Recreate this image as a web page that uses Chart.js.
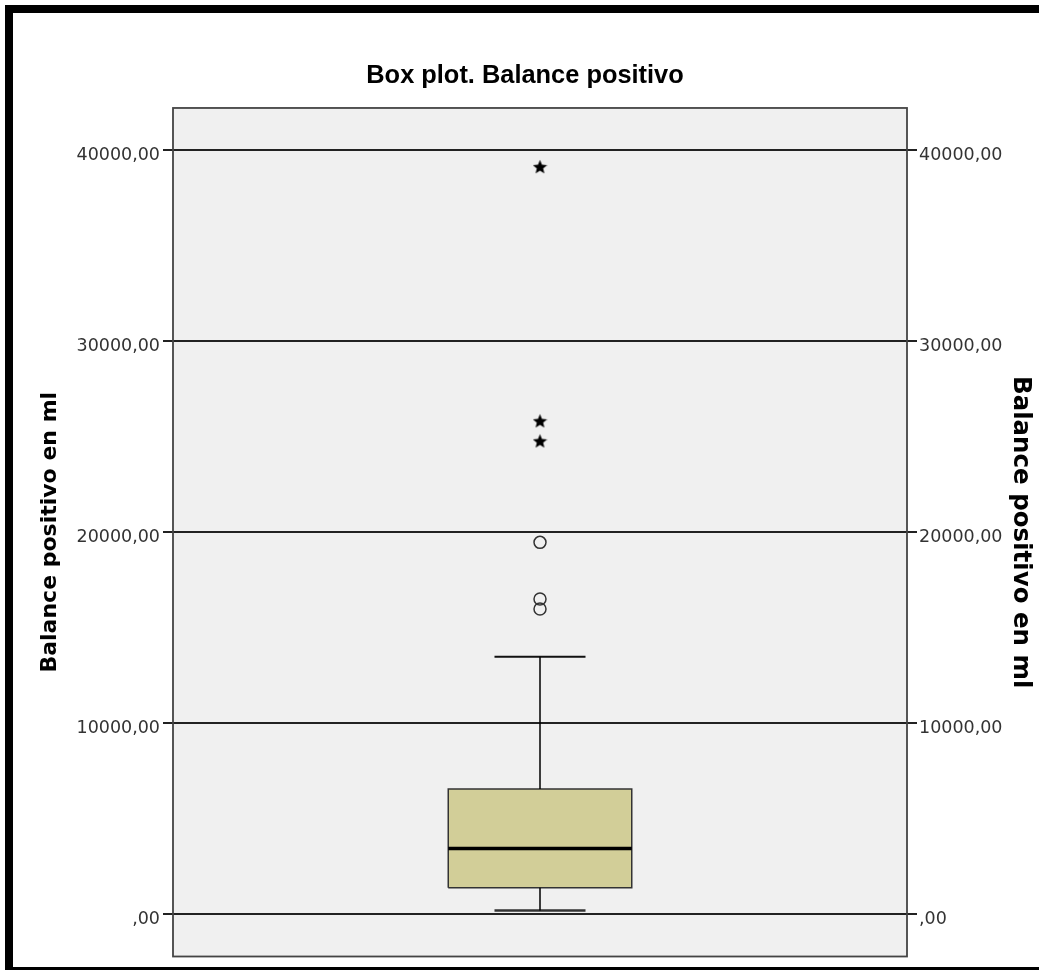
<!DOCTYPE html>
<html><head><meta charset="utf-8">
<script src="https://cdn.jsdelivr.net/npm/chart.js@4.4.1/dist/chart.umd.min.js"></script>
<style>
html,body{margin:0;padding:0;background:#fff;overflow:hidden;width:1039px;height:970px;}
#frame{position:absolute;left:5px;top:5px;width:1100px;height:954px;border-top:8px solid #000;border-left:8px solid #000;border-bottom:8px solid #000;}
#wrap{position:absolute;left:0;top:0;width:1039px;height:970px;}
</style></head><body>
<div id="frame"></div>
<div id="wrap"><canvas id="c"></canvas></div>
<script>
// ---- data ----
const chartTitle = 'Box plot. Balance positivo';
const axisTitle = 'Balance positivo en ml';
const categories = ['Balance positivo en ml'];
const whiskerLow = [210];
const q1 = [1400];
const median = [3450];
const q3 = [6570];
const whiskerHigh = [13480];
const outliers = [19470, 16510, 15980];   // circles
const extremes = [39130, 25830, 24780];   // stars
const tickValues = [0, 10000, 20000, 30000, 40000];
const tickLabels = [',00', '10000,00', '20000,00', '30000,00', '40000,00'];
const yMin = -2200, yMax = 42200;

// ---- geometry in x-axis units (category centred at 0) ----
const CX = 0, BOX_HALF = 0.25, CAP_HALF = 0.124;

// five-pointed star marker
function makeStar(size) {
  const c = document.createElement('canvas');
  c.width = size; c.height = size;
  const g = c.getContext('2d');
  const cx = size / 2, cy = size / 2 + 0.7, ro = size / 2, ri = ro * 0.45;
  g.beginPath();
  for (let i = 0; i < 10; i++) {
    const r = i % 2 ? ri : ro;
    const a = -Math.PI / 2 + i * Math.PI / 5;
    const px = cx + r * Math.cos(a), py = cy + r * Math.sin(a);
    i ? g.lineTo(px, py) : g.moveTo(px, py);
  }
  g.closePath();
  g.fillStyle = '#000';
  g.fill();
  return c;
}
const star = makeStar(15);

const seg = (x0, y0, x1, y1) => [{x: x0, y: y0}, {x: x1, y: y1}];
const lineDs = (data, color, width) => ({
  data, showLine: true, borderColor: color, borderWidth: width,
  pointRadius: 0, fill: false, tension: 0
});

const datasets = [
  {data: extremes.map(v => ({x: CX, y: v})), pointStyle: star, pointRadius: 7.5, showLine: false},
  {data: outliers.map(v => ({x: CX, y: v})), pointStyle: 'circle', pointRadius: 6,
   pointBorderColor: '#333', pointBorderWidth: 1.5, pointBackgroundColor: 'rgba(0,0,0,0)', showLine: false},
  lineDs(seg(CX - BOX_HALF, median[0], CX + BOX_HALF, median[0]), '#000', 3.5),
  lineDs(seg(CX, q3[0], CX, whiskerHigh[0]), '#000', 1.5),
  lineDs(seg(CX, whiskerLow[0], CX, q1[0]), '#000', 1.5),
  lineDs(seg(CX - CAP_HALF, whiskerHigh[0], CX + CAP_HALF, whiskerHigh[0]), '#111', 2),
  lineDs(seg(CX - CAP_HALF, whiskerLow[0], CX + CAP_HALF, whiskerLow[0]), '#333', 2.5),
  {data: [
      {x: CX - BOX_HALF, y: q1[0]}, {x: CX - BOX_HALF, y: q3[0]},
      {x: CX + BOX_HALF, y: q3[0]}, {x: CX + BOX_HALF, y: q1[0]},
      {x: CX - BOX_HALF, y: q1[0]}],
   showLine: true, fill: 'shape', backgroundColor: '#d2ce98', borderColor: '#333',
   borderWidth: 1.5, pointRadius: 0, tension: 0, borderJoinStyle: 'miter'}
];

const plotBg = {
  id: 'plotBg',
  beforeDraw(chart) {
    const {ctx, chartArea: a} = chart;
    ctx.save();
    ctx.fillStyle = '#f0f0f0';
    ctx.fillRect(a.left, a.top, a.right - a.left, a.bottom - a.top);
    ctx.restore();
  },
  afterDatasetsDraw(chart) {
    const {ctx, chartArea: a} = chart;
    ctx.save();
    ctx.strokeStyle = '#444';
    ctx.lineWidth = 1.8;
    ctx.strokeRect(a.left, a.top, a.right - a.left, a.bottom - a.top);
    ctx.restore();
  }
};

function yAxis(pos, width, titleSize, titlePad, tickPad, drawArea) {
  return {
    type: 'linear', position: pos, min: yMin, max: yMax,
    afterBuildTicks: s => { s.ticks = tickValues.map(v => ({value: v})); },
    afterFit: s => { s.width = width; },
    ticks: {
      callback: (v, i) => tickLabels[i],
      font: {family: 'DejaVu Sans', size: 17.5}, color: '#333', padding: tickPad, labelOffset: 5
    },
    grid: {color: '#222', lineWidth: 2, tickLength: 10, drawOnChartArea: drawArea},
    border: {display: false},
    title: {display: true, text: axisTitle, color: '#000',
      font: {family: 'DejaVu Sans', weight: 'bold', size: titleSize}, padding: {top: titlePad, bottom: 0}}
  };
}

new Chart(document.getElementById('c'), {
  type: 'scatter',
  data: {labels: categories, datasets},
  options: {
    responsive: true, maintainAspectRatio: false, animation: false,
    layout: {padding: {top: 0, bottom: 13, left: 11, right: 0}},
    plugins: {
      legend: {display: false}, tooltip: {enabled: false},
      title: {display: true, text: chartTitle, color: '#000',
        font: {family: 'Liberation Sans', weight: 'bold', size: 25.4},
        padding: {top: 61, bottom: 16.5}}
    },
    scales: {
      x: {type: 'linear', min: -1, max: 1, display: false},
      y: yAxis('left', 162, 22, 26, 3, true),
      y2: yAxis('right', 132, 24.5, 4, 2, false)
    }
  },
  plugins: [plotBg]
});
</script>
</body></html>
